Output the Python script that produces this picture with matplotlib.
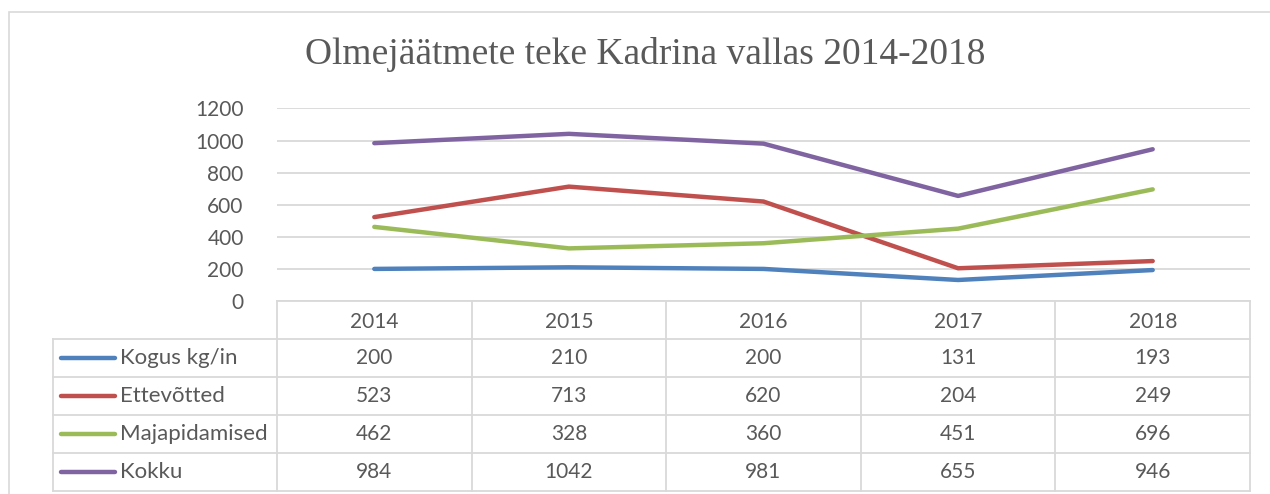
import numpy as np
import matplotlib.pyplot as plt
from matplotlib.patches import Rectangle

years = ['2014', '2015', '2016', '2017', '2018']
series_names = ['Kogus kg/in', 'Ettevõtted', 'Majapidamised', 'Kokku']
kogus = [200, 210, 200, 131, 193]
ettevotted = [523, 713, 620, 204, 249]
majapidamised = [462, 328, 360, 451, 696]
kokku = [984, 1042, 981, 655, 946]
colors = ['#4F81BD', '#C0504D', '#9BBB59', '#8064A2']
y_ticks = [0, 200, 400, 600, 800, 1000, 1200]

W, H = 1270, 494
fig = plt.figure(figsize=(W / 100, H / 100), dpi=100)
txt = '#595959'
grid_c = '#d9d9d9'
sans = ['Lato', 'DejaVu Sans']
num_fs = 15
name_fs = 16


def fx(px):
    return px / W


def fy(py):
    return 1 - py / H


# outer chart border
fig.patches.append(Rectangle((fx(8.5), fy(520)), fx(1300) - fx(8.5), fy(12) - fy(520),
                             transform=fig.transFigure, fill=False,
                             edgecolor=grid_c, linewidth=1.2))

fig.text(fx(645), fy(55), 'Olmejäätmete teke Kadrina vallas 2014-2018',
         ha='center', va='center', fontsize=27, color=txt,
         family=['Liberation Serif', 'DejaVu Serif'])

# line chart
left, right, top, bottom = 277, 1250, 108.5, 301
ax = fig.add_axes([fx(left), fy(bottom), fx(right) - fx(left), fy(top) - fy(bottom)])
x = np.arange(len(years))
data = [kogus, ettevotted, majapidamised, kokku]
for vals, c in zip(data, colors):
    ax.plot(x, vals, color=c, lw=3.2, solid_capstyle='round', zorder=3)
ax.set_xlim(-0.5, len(years) - 0.5)
ax.set_ylim(0, 1200)
ax.set_yticks(y_ticks)
ax.set_yticklabels([str(v) for v in y_ticks], fontsize=num_fs, color=txt, family=sans)
ax.tick_params(axis='y', length=0, pad=24)
ax.set_xticks([])
ax.grid(axis='y', color=grid_c, lw=1.3)
for s in ax.spines.values():
    s.set_visible(False)
ax.set_axisbelow(True)

# data table
tl, tr, tt, tb = 53, 1250, 301, 491
tax = fig.add_axes([fx(tl), fy(tb), fx(tr) - fx(tl), fy(tt) - fy(tb)])
col_w = (right - left) / len(years)
xl = -0.5 - (left - tl) / col_w
tax.set_xlim(xl, len(years) - 0.5)
n_rows = len(series_names) + 1
tax.set_ylim(n_rows, 0)
tax.axis('off')
lc = '#d9d9d9'
# horizontal lines
tax.plot([-0.5, len(years) - 0.5], [0, 0], color=lc, lw=1.3, clip_on=False)
for r in range(1, n_rows + 1):
    tax.plot([xl, len(years) - 0.5], [r, r], color=lc, lw=1.3, clip_on=False)
# vertical lines
tax.plot([xl, xl], [1, n_rows], color=lc, lw=1.3, clip_on=False)
for c in range(len(years) + 1):
    tax.plot([c - 0.5, c - 0.5], [0, n_rows], color=lc, lw=1.3, clip_on=False)

for i, yr in enumerate(years):
    tax.text(i, 0.55, yr, ha='center', va='center', fontsize=num_fs, color=txt, family=sans)
for r, (name, vals, c) in enumerate(zip(series_names, data, colors), start=1):
    ly = r + 0.5
    tax.plot([xl + 0.04, xl + 0.32], [ly, ly], color=c, lw=3.2, solid_capstyle='round',
             clip_on=False)
    tax.text(xl + 0.345, ly, name, ha='left', va='center', fontsize=name_fs, color=txt,
             family=sans)
    for i, v in enumerate(vals):
        tax.text(i, ly, str(v), ha='center', va='center', fontsize=num_fs, color=txt,
                 family=sans)

fig.savefig('out.png', dpi=100, facecolor='white')
